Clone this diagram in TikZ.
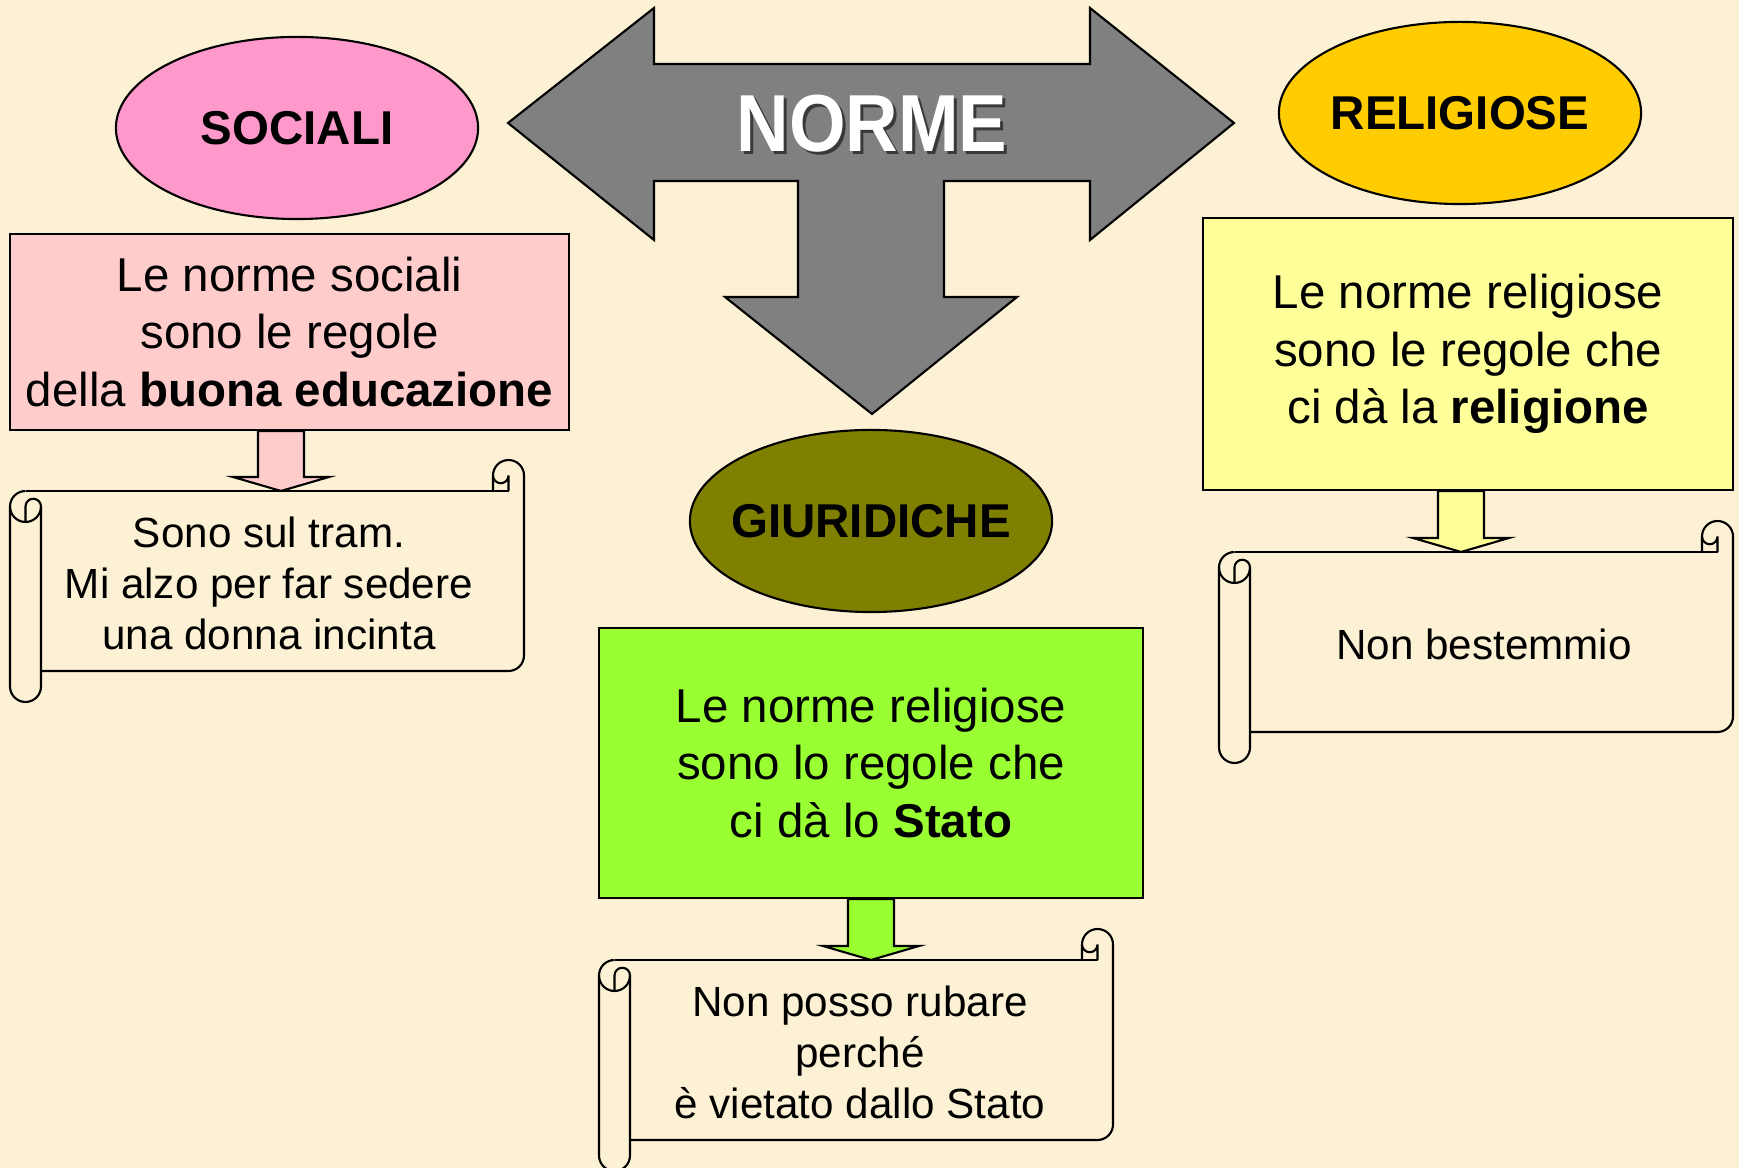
\documentclass[tikz,border=0pt]{standalone}
\usepackage{fontspec}
\setmainfont{Liberation Sans}
\newfontfamily\normefont[FakeStretch=0.9]{Liberation Sans}
\usetikzlibrary{shapes.geometric,positioning,calc}

\definecolor{parchment}{RGB}{252,241,212}
\definecolor{socpink}{RGB}{255,153,204}
\definecolor{boxpink}{RGB}{255,204,204}
\definecolor{relgold}{RGB}{255,204,0}
\definecolor{boxyellow}{RGB}{255,255,153}
\definecolor{olivegreen}{RGB}{128,128,0}
\definecolor{boxgreen}{RGB}{153,255,51}
\definecolor{arrowgray}{RGB}{128,128,128}

\tikzset{
  outline/.style={draw=black, line width=0.6pt},
  category/.style={outline, ellipse, inner sep=0pt, minimum width=3.62cm, minimum height=1.82cm,
    font=\fontsize{13.5}{16}\selectfont\bfseries},
  rulebox/.style={outline, rectangle, inner sep=0pt, align=center,
    font=\fontsize{13.5}{16.4}\selectfont},
  example/.style={align=center, inner sep=0pt, font=\fontsize{12}{14.5}\selectfont},
}

% fixed-size label inside the ellipses
\newcommand{\catlabel}[1]{\makebox[0pt][c]{#1}}

% scroll banner, #1,#2 = top left corner (px)
\newcommand{\scrollshape}[2]{%
  \begin{scope}[shift={(#1,#2)}, line width=0.6pt]
    \draw (483,31) -- (483,15.5) arc[start angle=180, end angle=360, radius=15.5]
      -- (514,195.5) arc[start angle=0, end angle=90, radius=15.5] -- (31,211);
    \draw (15.5,31) -- (498.5,31);
    % right curl
    \draw (483,15.5) arc[start angle=180, end angle=0, radius=7.75] -- (498.5,31);
    % left roll
    \draw (15.5,31) arc[start angle=270, end angle=0, radius=15.5];
    \draw (15.5,62) -- (15.5,46.5) arc[start angle=180, end angle=360, radius=7.75];
    \draw (0,46.5) -- (0,226.5) arc[start angle=180, end angle=0, radius=15.5] -- (31,46.5);
  \end{scope}}

% block arrow from #1 down to #2
\newcommand{\fatarrow}[3]{%
  \draw[outline, fill=#3] ($(#1)+(-23,0)$) -- ($(#2)+(-23,-14)$) -- ($(#2)+(-48,-14)$)
    -- (#2) -- ($(#2)+(48,-14)$) -- ($(#2)+(23,-14)$) -- ($(#1)+(23,0)$) -- cycle;}

\begin{document}
\begin{tikzpicture}[x=0.01cm, y=-0.01cm]
	% Background
	\fill[parchment] (0,0) rectangle (1739,1168);
	\useasboundingbox (0,0) rectangle (1739,1168);

	% Three-way arrow
	\draw[outline, fill=arrowgray] (508,123) -- (654,8) -- (654,64) -- (1090,64) -- (1090,8)
		-- (1234,123) -- (1090,240) -- (1090,181) -- (944,181) -- (944,297) -- (1017,297)
		-- (872,414) -- (725,297) -- (798,297) -- (798,181) -- (654,181) -- (654,240) -- cycle;
	\node[text=black, opacity=0.55, font=\normefont\fontsize{23}{23}\selectfont\bfseries]
		at (875,127) {NORME};
	\node[text=white, font=\normefont\fontsize{23}{23}\selectfont\bfseries]
		(norme) at (872,124) {NORME};

	% Categories
	\node[category, fill=socpink] (sociali) at (297,128) {\catlabel{SOCIALI}};
	\node[category, fill=relgold] (religiose) at (1460,113) {\catlabel{RELIGIOSE}};
	\node[category, fill=olivegreen] (giuridiche) at (871,521) {\catlabel{GIURIDICHE}};

	% Definitions
	\node[rulebox, fill=boxpink, minimum width=5.59cm, minimum height=1.96cm]
		(socdef) at (289.5,332) {Le norme sociali\\sono le regole\\della \textbf{buona educazione}};
	\node[rulebox, fill=boxyellow, minimum width=5.30cm, minimum height=2.72cm]
		(reldef) at (1468,354) {Le norme religiose\\sono le regole che\\ci dà la \textbf{religione}};
	\node[rulebox, fill=boxgreen, minimum width=5.44cm, minimum height=2.70cm]
		(giudef) at (871,763) {Le norme religiose\\sono lo regole che\\ci dà lo \textbf{Stato}};

	% Examples
	\scrollshape{10}{460}
	\scrollshape{1219}{521}
	\scrollshape{599}{929}
	\node[example] (socex) at (269,583) {Sono sul tram.\\Mi alzo per far sedere\\una donna incinta};
	\node[example] (relex) at (1484,644) {Non bestemmio};
	\node[example] (giuex) at (860,1052) {Non posso rubare\\perché\\è vietato dallo Stato};

	% Arrows to the examples
	\coordinate (soctip) at (281,491);
	\coordinate (reltip) at (1461,552);
	\coordinate (giutip) at (871,960);
	\fatarrow{soctip |- socdef.south}{soctip}{boxpink}
	\fatarrow{reltip |- reldef.south}{reltip}{boxyellow}
	\fatarrow{giutip |- giudef.south}{giutip}{boxgreen}

\end{tikzpicture}
\end{document}
